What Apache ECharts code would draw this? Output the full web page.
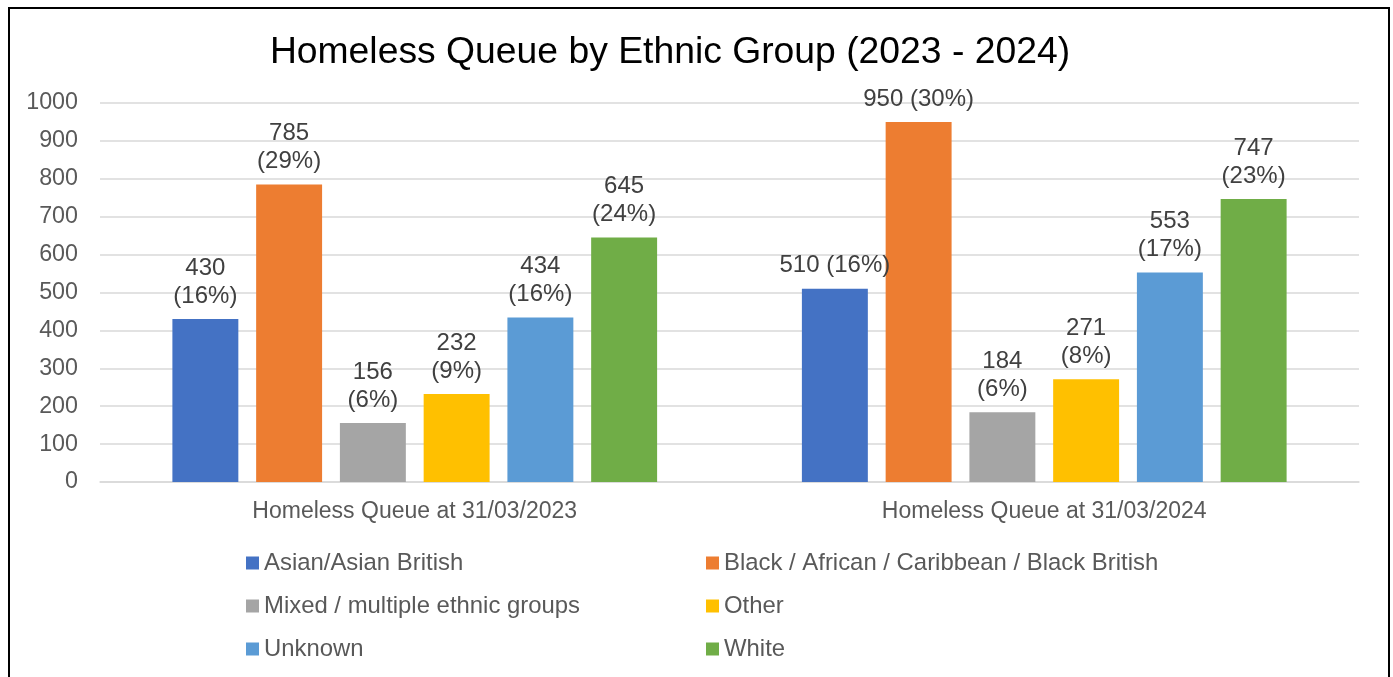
<!DOCTYPE html>
<html>
<head>
<meta charset="utf-8">
<script src="https://cdn.jsdelivr.net/npm/echarts@6/dist/echarts.min.js"></script>
<style>
html,body{margin:0;padding:0;background:#fff;}
#chart{width:1393px;height:677px;}
</style>
</head>
<body>
<div id="chart"></div>
<script>
const categories = ['Homeless Queue at 31/03/2023', 'Homeless Queue at 31/03/2024'];
const seriesNames = ['Asian/Asian British', 'Black / African / Caribbean / Black British', 'Mixed / multiple ethnic groups', 'Other', 'Unknown', 'White'];
const asian = [430, 510];
const black = [785, 950];
const mixed = [156, 184];
const other = [232, 271];
const unknown = [434, 553];
const white = [645, 747];
const asianPct = [16, 16];
const blackPct = [29, 30];
const mixedPct = [6, 6];
const otherPct = [9, 8];
const unknownPct = [16, 17];
const whitePct = [24, 23];
// labels shown on one line (series index, category index)
const singleLine = [[0, 1], [1, 1]];
const yTicks = [0, 100, 200, 300, 400, 500, 600, 700, 800, 900, 1000];

const values = [asian, black, mixed, other, unknown, white];
const pcts = [asianPct, blackPct, mixedPct, otherPct, unknownPct, whitePct];
const colors = ['#4472C4', '#ED7D31', '#A5A5A5', '#FFC000', '#5B9BD5', '#70AD47'];
const FONT = '"Liberation Sans", Arial, sans-serif';

const chart = echarts.init(document.getElementById('chart'));
const series = values.map((vals, si) => ({
  name: seriesNames[si],
  type: 'bar',
  data: vals,
  barGap: '27%',
  barCategoryGap: '23%',
  itemStyle: { color: colors[si] },
  label: {
    show: true,
    position: 'top',
    distance: 9,
    color: '#404040',
    fontFamily: FONT,
    fontSize: 24,
    lineHeight: 28,
    formatter: p => {
      const one = singleLine.some(s => s[0] === si && s[1] === p.dataIndex);
      return p.value + (one ? ' ' : '\n') + '(' + pcts[si][p.dataIndex] + '%)';
    }
  }
}));

const legendCommon = {
  orient: 'vertical',
  icon: 'rect',
  itemWidth: 13,
  itemHeight: 13,
  itemGap: 19,
  padding: 0,
  selectedMode: false,
  textStyle: { color: '#595959', fontFamily: FONT, fontSize: 23.9, lineHeight: 24, padding: [0, 0, 0, 0] }
};

chart.setOption({
  animation: false,
  backgroundColor: '#fff',
  title: {
    text: 'Homeless Queue by Ethnic Group (2023 - 2024)',
    left: 665,
    textAlign: 'center',
    top: 29,
    textStyle: { color: '#000', fontFamily: FONT, fontSize: 37.3, fontWeight: 'normal' }
  },
  graphic: [{
    type: 'rect',
    shape: { x: 9, y: 8, width: 1380, height: 700 },
    style: { fill: 'none', stroke: '#000', lineWidth: 2 },
    silent: true
  }],
  legend: [
    Object.assign({}, legendCommon, { left: 246, top: 551, data: [seriesNames[0], seriesNames[2], seriesNames[4]] }),
    Object.assign({}, legendCommon, { left: 706, top: 551, data: [seriesNames[1], seriesNames[3], seriesNames[5]] })
  ],
  grid: { left: 100, right: 34, top: 103, bottom: 195, containLabel: false },
  xAxis: {
    type: 'category',
    data: categories,
    axisLine: { show: true, lineStyle: { color: '#d9d9d9', width: 1.5 } },
    axisTick: { show: false },
    axisLabel: { color: '#595959', fontFamily: FONT, fontSize: 23, margin: 18 }
  },
  yAxis: {
    type: 'value',
    min: yTicks[0],
    max: yTicks[yTicks.length - 1],
    interval: yTicks[1] - yTicks[0],
    axisLine: { show: false },
    axisTick: { show: false },
    splitLine: { lineStyle: { color: '#d9d9d9', width: 1.5 } },
    axisLabel: { color: '#595959', fontFamily: FONT, fontSize: 23.3, margin: 22, formatter: v => String(v) }
  },
  series: series
});
</script>
</body>
</html>
